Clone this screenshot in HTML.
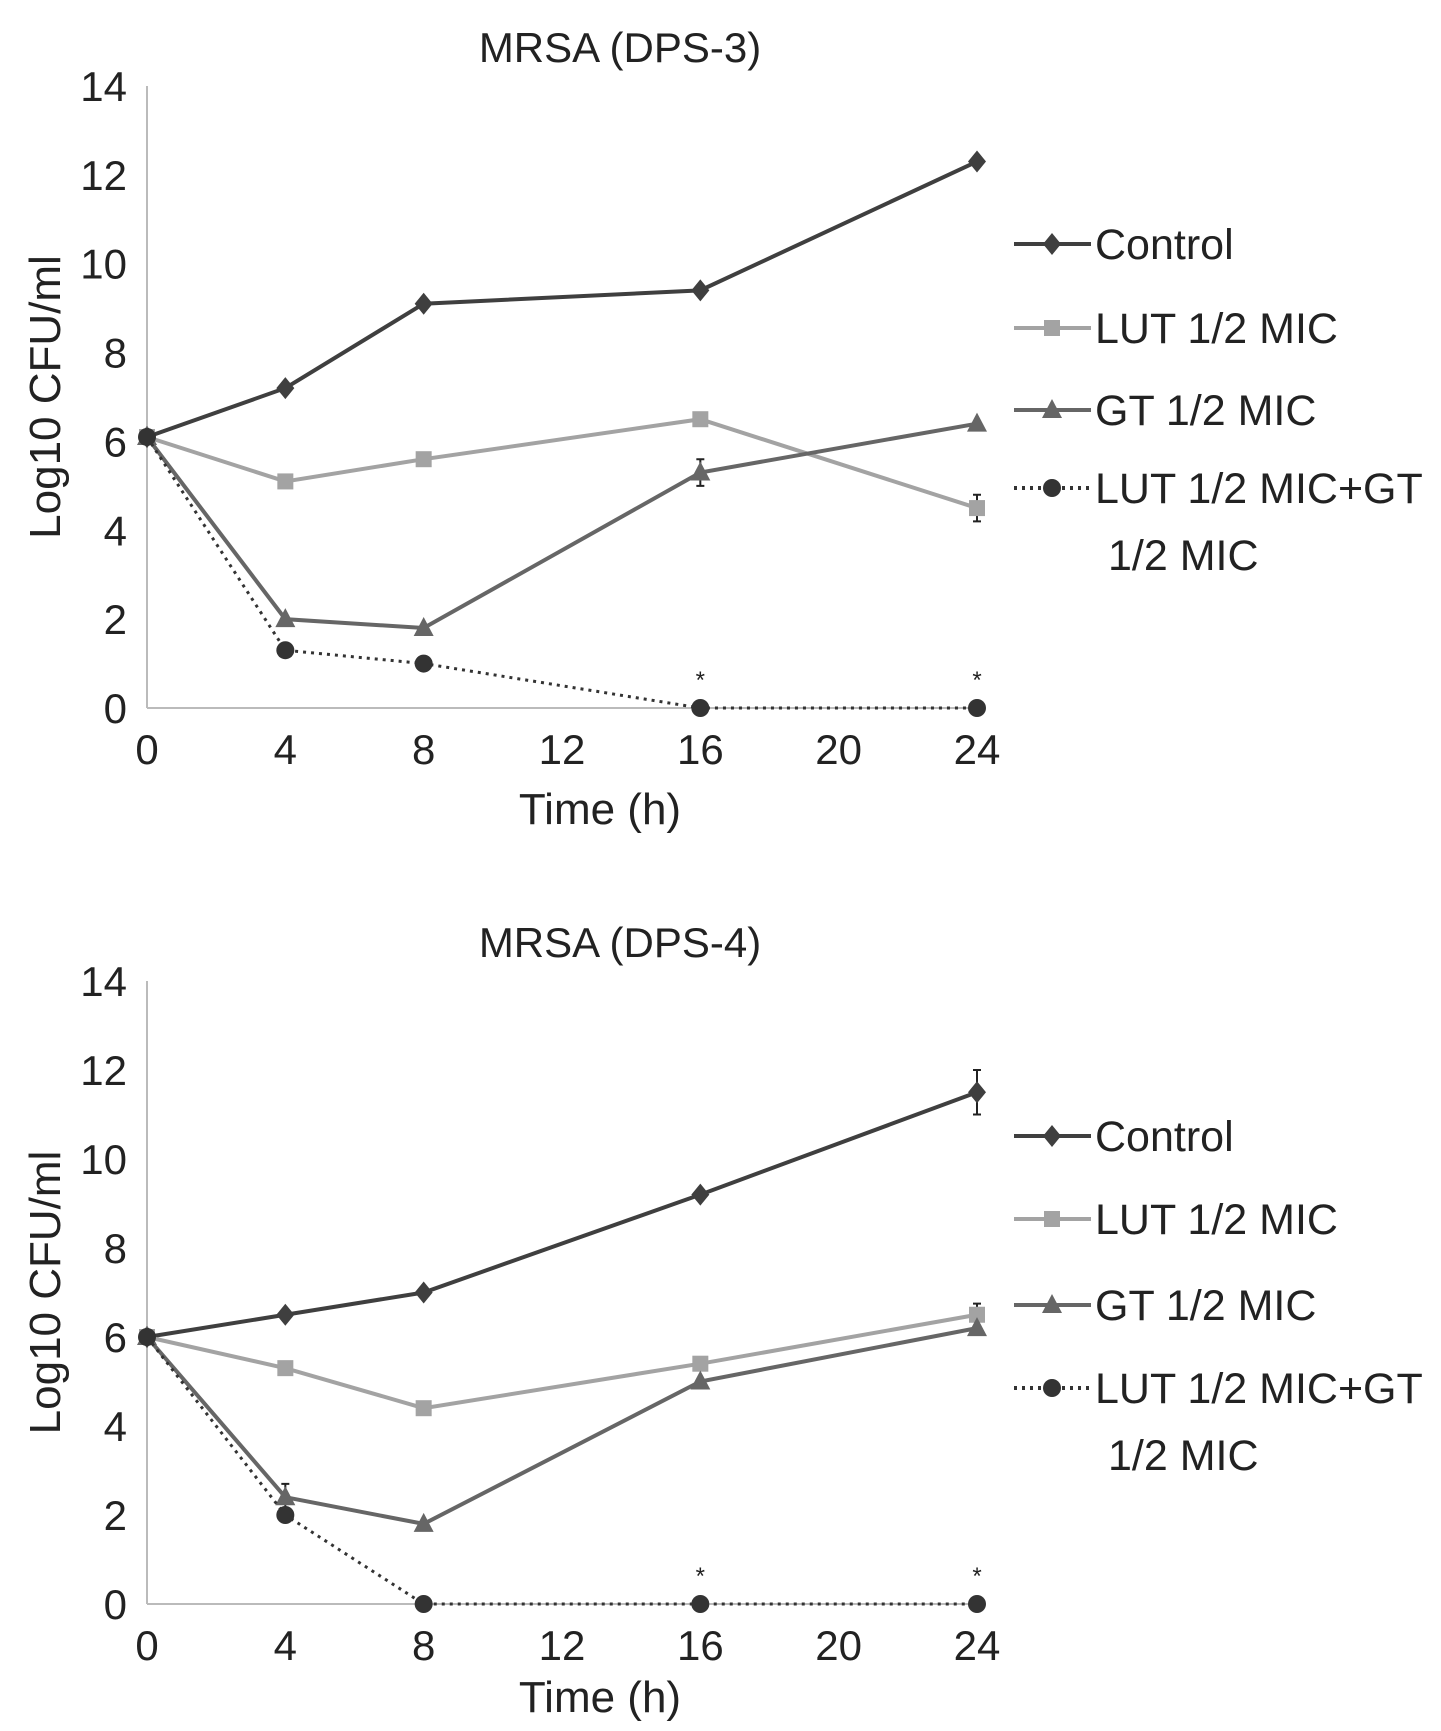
<!DOCTYPE html>
<html><head><meta charset="utf-8"><style>
body{margin:0;background:#fff;}
svg{display:block;font-family:"Liberation Sans Narrow","Liberation Sans",sans-serif;}
</style></head><body>
<svg id="c" width="1441" height="1731"></svg>
<script>
const times=[0,4,8,16,24];
const xTicks=[0,4,8,12,16,20,24];
const yTicks=[0,2,4,6,8,10,12,14];
const seriesNames=["Control","LUT 1/2 MIC","GT 1/2 MIC","LUT 1/2 MIC+GT"];
const top_control=[6.1,7.2,9.1,9.4,12.3];
const top_lut=[6.1,5.1,5.6,6.5,4.5];
const top_gt=[6.1,2.0,1.8,5.3,6.4];
const top_combo=[6.1,1.3,1.0,0,0];
const top_err=[[0,0,0,0,0],[0,0,0,0,0.3],[0,0,0,0.3,0],[0,0,0,0,0]];
const bot_control=[6.0,6.5,7.0,9.2,11.5];
const bot_lut=[6.0,5.3,4.4,5.4,6.5];
const bot_gt=[6.0,2.4,1.8,5.0,6.2];
const bot_combo=[6.0,2.0,0,0,0];
const bot_err=[[0,0,0,0,0.5],[0,0,0,0,0.25],[0,0.3,0,0,0],[0,0,0,0,0]];

const NS="http://www.w3.org/2000/svg";
const svg=document.getElementById('c');
function mk(t,a,p){const e=document.createElementNS(NS,t);for(const k in a)e.setAttribute(k,a[k]);(p||svg).appendChild(e);return e;}
function txt(s,a,p){const e=mk('text',a,p);e.textContent=s;return e;}
const styles=[{c:"#3f3f3f",m:"diamond",d:""},{c:"#a3a3a3",m:"square",d:""},{c:"#666",m:"triangle",d:""},{c:"#333",m:"circle",d:"3,5"}];
function marker(g,m,x,y,c){
  if(m==="diamond")mk('polygon',{points:`${x},${y-11} ${x+9},${y} ${x},${y+11} ${x-9},${y}`,fill:c},g);
  else if(m==="square")mk('rect',{x:x-8,y:y-8,width:16,height:16,fill:c},g);
  else if(m==="triangle")mk('polygon',{points:`${x},${y-11} ${x+10},${y+8} ${x-10},${y+8}`,fill:c},g);
  else mk('circle',{cx:x,cy:y,r:9,fill:c},g);
}
function chart(name,title,y0,y14,legY,xlY,data,errs){
  const g=mk('g',{});
  
  
  const X=v=>147+(977-147)*v/24, Y=v=>y0+(y14-y0)*v/14;
  const t=txt(title,{x:620,y:Y(14)-24,'font-size':42,'text-anchor':'middle',fill:'#222'},g);
  
  const ya=mk('line',{x1:X(0),y1:Y(14),x2:X(0),y2:Y(0),stroke:'#bbb','stroke-width':2},g);
  
  const xa=mk('line',{x1:X(0),y1:Y(0),x2:X(24),y2:Y(0),stroke:'#bbb','stroke-width':2},g);
  
  yTicks.forEach(v=>{const e=txt(String(v),{x:X(0)-20,y:Y(v)+15,'font-size':42,'text-anchor':'end',fill:'#222'},g);
    });
  xTicks.forEach(v=>{const e=txt(String(v),{x:X(v),y:Y(0)+56,'font-size':42,'text-anchor':'middle',fill:'#222'},g);
    });
  const yl=txt('Log10 CFU/ml',{x:0,y:0,'font-size':44,'text-anchor':'middle',fill:'#222','font-family':'Liberation Sans, sans-serif',transform:`translate(60,${(Y(0)+Y(14))/2}) rotate(-90)`},g);
  
  const xl=txt('Time (h)',{x:600,y:xlY,'font-size':44,'text-anchor':'middle',fill:'#222'},g);
  
  data.forEach((vals,i)=>{
    const s=styles[i];
    const sg=mk('g',{},g);
    
    
    const pts=vals.map((v,j)=>X(times[j])+','+Y(v)).join(' ');
    const a={points:pts,fill:'none',stroke:s.c,'stroke-width':i===3?3:4};
    if(s.d)a['stroke-dasharray']=s.d;
    mk('polyline',a,sg);
    vals.forEach((v,j)=>{
      const e=errs[i][j];
      if(e>0){const x=X(times[j]);
        mk('path',{d:`M${x},${Y(v+e)}V${Y(v-e)}M${x-4},${Y(v+e)}H${x+4}M${x-4},${Y(v-e)}H${x+4}`,stroke:'#222','stroke-width':2,fill:'none'},sg);}
      marker(sg,s.m,X(times[j]),Y(v),s.c);
    });
  });
  [16,24].forEach(v=>{const e=txt('*',{x:X(v),y:Y(0)-20,'font-size':24,'text-anchor':'middle',fill:'#222'},g);
    });
  legY.forEach((ly,i)=>{
    const s=styles[i];
    const lg=mk('g',{},g);
    
    
    const a={x1:1014,y1:ly,x2:1091,y2:ly,stroke:s.c,'stroke-width':4};
    if(s.d)a['stroke-dasharray']=s.d;
    mk('line',a,lg);
    marker(lg,s.m,1052,ly,s.c);
    txt(seriesNames[i],{x:1095,y:ly+15,'font-size':43,fill:'#222'},lg);
  });
  txt('1/2 MIC',{x:1108,y:legY[3]+82,'font-size':43,fill:'#222'},g);
}
chart('chart-dps-3','MRSA (DPS-3)',708,86,[244,328,410,488],824,[top_control,top_lut,top_gt,top_combo],top_err);
chart('chart-dps-4','MRSA (DPS-4)',1604,981,[1136,1219,1305,1388],1712,[bot_control,bot_lut,bot_gt,bot_combo],bot_err);
</script>
</body></html>
